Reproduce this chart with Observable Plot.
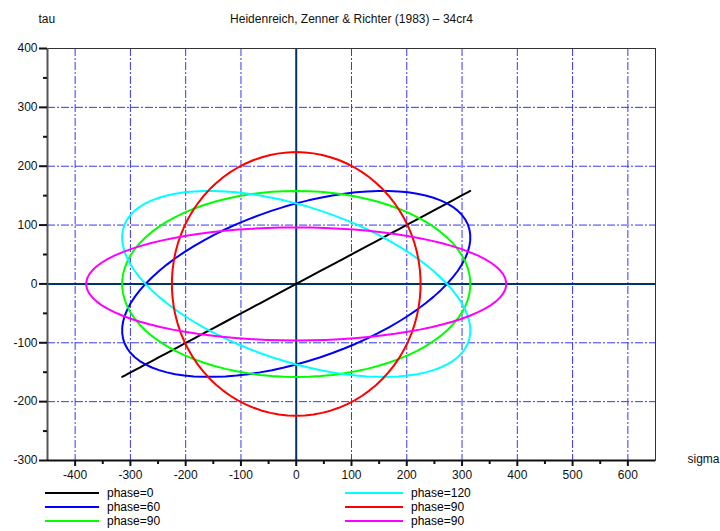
<!DOCTYPE html>
<html>
<head>
<meta charset="utf-8">
<script src="https://cdn.jsdelivr.net/npm/d3@7"></script>
<script src="https://cdn.jsdelivr.net/npm/@observablehq/plot@0.6"></script>
<style>
  html, body { margin: 0; padding: 0; background: #fff; }
  #wrap { position: relative; width: 720px; height: 531px; font-family: "Liberation Sans", Arial, sans-serif; }
  #legend { position: absolute; left: 0; top: 485px; width: 720px; height: 46px; }
  .item { position: absolute; font-size: 12px; color: #000; line-height: 14px; white-space: nowrap; }
  .sw { position: absolute; height: 2px; }
</style>
</head>
<body>
<div id="wrap"><div id="chart"></div><div id="legend"></div></div>
<script>
// ---- data ----
const seriesLabels = ["phase=0", "phase=60", "phase=90", "phase=120", "phase=90", "phase=90"];
const phaseDeg     = [0, 60, 90, 120, 90, 90];
const sigmaAmp     = [315, 315, 315, 315, 225, 380];
const tauAmp       = [158, 158, 158, 158, 224, 96];
const seriesColors = ["#000000", "#0000ff", "#00ff00", "#00ffff", "#ff0000", "#ff00ff"];
const xTicks = [-400, -300, -200, -100, 0, 100, 200, 300, 400, 500, 600];
const xMinor = [-350, -250, -150, -50, 50, 150, 250, 350, 450, 550];
const yTicks = [-300, -200, -100, 0, 100, 200, 300, 400];
const yMinor = [-250, -150, -50, 50, 150, 250, 350];
const titleText = "Heidenreich, Zenner & Richter (1983) \u2013 34cr4";

// build closed loading paths sigma = A sin(wt), tau = B sin(wt + phase)
const curves = [];
seriesLabels.forEach((lab, i) => {
  for (let a = 0; a <= 360; a += 4) {
    const t = a * Math.PI / 180;
    curves.push({
      s: i,
      sigma: sigmaAmp[i] * Math.sin(t),
      tau: tauAmp[i] * Math.sin(t + phaseDeg[i] * Math.PI / 180)
    });
  }
});

const gridColor = "#3636ff";
const dash = "8,2,2,2";
const fmt = d => String(d);

const chart = Plot.plot({
  width: 720,
  height: 485,
  marginLeft: 47,
  marginRight: 65,
  marginTop: 48,
  marginBottom: 25,
  style: { fontFamily: "'Liberation Sans', Arial, sans-serif", fontSize: "12px", background: "#fff" },
  x: { domain: [-450, 650], label: null },
  y: { domain: [-300, 400], label: null },
  marks: [
    Plot.gridX(xTicks.filter(d => d !== 0), { stroke: gridColor, strokeOpacity: 1, strokeDasharray: dash }),
    Plot.gridY(yTicks.filter(d => d !== 0 && d !== -300 && d !== 400), { stroke: gridColor, strokeOpacity: 1, strokeDasharray: dash }),
    Plot.ruleX([0], { stroke: "#003366", strokeWidth: 2 }),
    Plot.ruleY([0], { stroke: "#003366", strokeWidth: 2 }),
    Plot.line(curves, { x: "sigma", y: "tau", z: "s", stroke: d => seriesColors[d.s], strokeWidth: 2, curve: "linear" }),
    Plot.frame({ stroke: "#333", strokeWidth: 1 }),
    Plot.ruleX([-450], { stroke: "#555", strokeWidth: 2 }),
    Plot.ruleY([-300], { stroke: "#111", strokeWidth: 2 }),
    Plot.axisY(yTicks, { tickSize: 8, tickPadding: 2, strokeWidth: 2, stroke: "#111", tickFormat: fmt, fontSize: 12, fill: "#111" }),
    Plot.axisY(yMinor, { tickSize: 4, strokeWidth: 2, stroke: "#111", tickFormat: () => "" }),
    Plot.axisX(xTicks, { tickSize: 6, tickPadding: 4, strokeWidth: 2, stroke: "#111", tickFormat: fmt, fontSize: 12, fill: "#111" }),
    Plot.axisX(xMinor, { tickSize: 4, strokeWidth: 2, stroke: "#111", tickFormat: () => "" }),
    Plot.text([titleText], { frameAnchor: "top", dy: -34, fontSize: 12, fill: "#111" }),
    Plot.text(["tau"], { frameAnchor: "top-left", dx: -9, dy: -34, textAnchor: "start", fontSize: 12, fill: "#111" }),
    Plot.text(["sigma"], { frameAnchor: "bottom-right", dx: 64, dy: 2, textAnchor: "end", fontSize: 12, fill: "#111" })
  ]
});
document.getElementById("chart").appendChild(chart);

// legend (two columns of three)
const legend = document.getElementById("legend");
const rowY = [8, 22, 36];
seriesLabels.forEach((lab, i) => {
  const col = Math.floor(i / 3), row = i % 3;
  const swLeft = col === 0 ? 45 : 345;
  const swWidth = col === 0 ? 54 : 58;
  const txtLeft = col === 0 ? 107 : 411;
  const sw = document.createElement("div");
  sw.className = "sw";
  sw.style.left = swLeft + "px";
  sw.style.width = swWidth + "px";
  sw.style.top = (rowY[row] - 1) + "px";
  sw.style.background = seriesColors[i];
  legend.appendChild(sw);
  const t = document.createElement("div");
  t.className = "item";
  t.style.left = txtLeft + "px";
  t.style.top = (rowY[row] - 7) + "px";
  t.textContent = lab;
  legend.appendChild(t);
});
</script>
</body>
</html>
